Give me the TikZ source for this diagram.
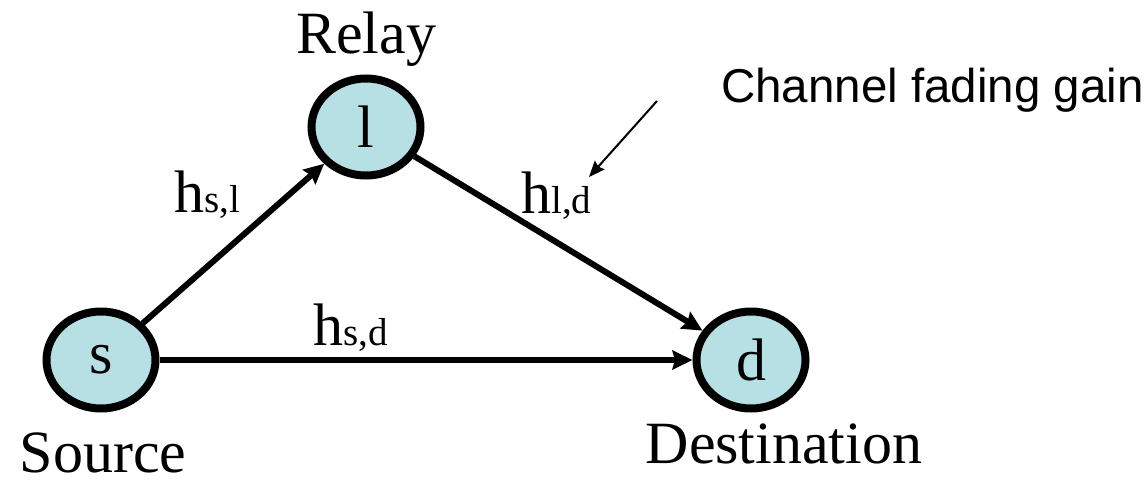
\documentclass[tikz,border=0pt]{standalone}
\usepackage{fontspec}
\setmainfont{Liberation Serif}
\newfontfamily\annfont{Liberation Sans}
\usetikzlibrary{shapes.geometric,arrows.meta}
\definecolor{nodefill}{RGB}{183,224,228}
\newcommand{\mainsz}{\fontsize{60}{66}\selectfont}
\newcommand{\subsz}{\fontsize{39}{44}\selectfont}
\tikzset{
  station/.style={ellipse,draw=black,line width=8pt,fill=nodefill,minimum width=109pt,minimum height=97pt,inner sep=0pt,font=\mainsz},
  link/.style={line width=6pt,-{Stealth[length=20pt,width=19pt,inset=2.5pt]}},
  lbl/.style={anchor=base west,inner sep=0pt,font=\mainsz},
  pointer/.style={line width=2pt,-{Stealth[length=16pt,width=13pt,inset=2pt]}}
}
\begin{document}
\begin{tikzpicture}[x=1pt,y=-1pt]
\useasboundingbox (0,0) rectangle (1146,482);
\node[station] (s) at (101,360) {s};
\node[station] (l) at (366,127) {l};
\node[station] (d) at (751,360) {d};
\node[anchor=base,inner sep=0pt,font=\mainsz] (srclbl) at (103,472) {Source};
\node[anchor=base,inner sep=0pt,font=\mainsz] (rellbl) at (366,53) {Relay};
\node[anchor=base,inner sep=0pt,font=\mainsz] (dstlbl) at (784,463) {Destination};
\draw[link] (s) -- (l);
\draw[link] (l) -- (d);
\draw[link] (s) -- (d);
\node[lbl] (hsl) at (174,212) {h{\subsz s,l}};
\node[lbl] (hld) at (521,213) {h{\subsz l,d}};
\node[lbl] (hsd) at (313,345) {h{\subsz s,d}};
\node[anchor=base west,inner sep=0pt,font=\annfont\fontsize{47.5}{52}\selectfont] (cfg) at (721,102) {Channel fading gain};
\coordinate (ptrstart) at (657,101);
\coordinate (ptrend) at (589,177);
\draw[pointer] (ptrstart) -- (ptrend);
\end{tikzpicture}
\end{document}
